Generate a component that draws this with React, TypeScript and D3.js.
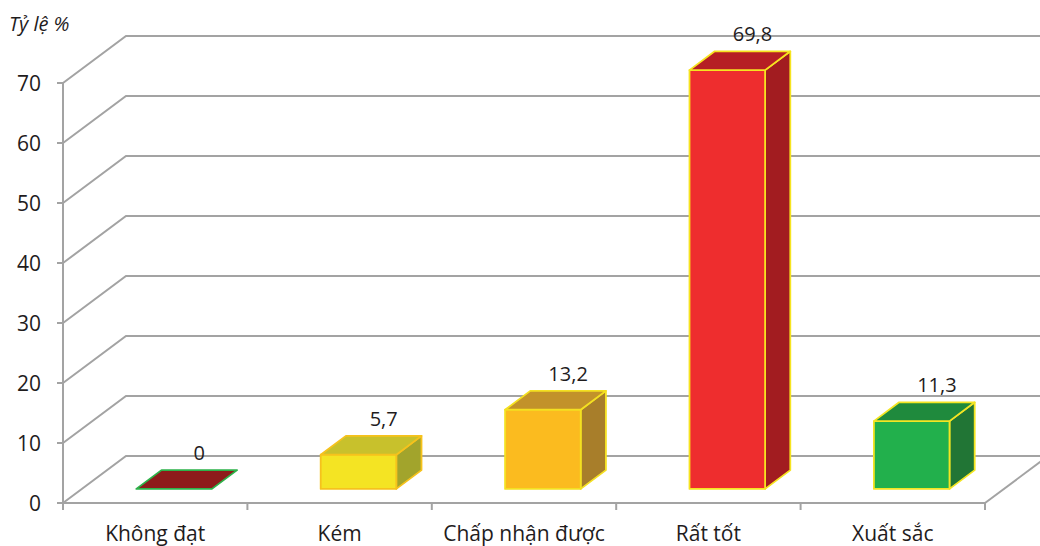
import React from "react";
import * as d3 from "d3";

// Survey result shares (%) per rating level
const categories = ["Không đạt", "Kém", "Chấp nhận được", "Rất tốt", "Xuất sắc"];
const values = [0, 5.7, 13.2, 69.8, 11.3];
const valueLabels = ["0", "5,7", "13,2", "69,8", "11,3"];
const yTicks = [0, 10, 20, 30, 40, 50, 60, 70];

// Face colours for each box: front, right side, top, outline
const frontColors = ["#8e1b1b", "#f4e423", "#fbbb1f", "#ee2d2e", "#22b04c"];
const sideColors = ["#8e1b1b", "#a2a42c", "#a87e2a", "#a21c20", "#217535"];
const topColors = ["#8e1b1b", "#c8c12c", "#c2922a", "#b61f24", "#1f8a3d"];
const strokeColors = ["#2db34a", "#f6c21c", "#f4e021", "#f6e420", "#f3e523"];

const W = 1040;
const H = 546;
const FONT = "'Open Sans', 'Noto Sans', sans-serif";
const GRID = "#a3a3a3";
const INK = "#1f1c1d";

export default function App() {
  const y = d3.scaleLinear().domain([0, 70]).range([503, 83]);
  const x = d3.scaleBand<string>().domain(categories).range([63, 985]);

  // oblique projection of the depth axis
  const depthX = 63;
  const depthY = -47;
  const dFront = 0.3;
  const dBack = 0.7;
  const barW = x.bandwidth() * 0.41;

  const gridPath = (v: number) => {
    const p = d3.path();
    p.moveTo(x.range()[0], y(v));
    p.lineTo(x.range()[0] + depthX, y(v) + depthY);
    p.lineTo(W, y(v) + depthY);
    return p.toString();
  };

  const poly = (pts: [number, number][]) => d3.line()(pts.concat([pts[0]])) + "Z";

  const right = x.range()[1];

  return (
    <svg
      width={W}
      height={H}
      style={{ position: "absolute", left: 0, top: 0, background: "#ffffff" }}
    >
      <text x={9} y={31} fontFamily={FONT} fontStyle="italic" fontSize={20} fill={INK}>
        Tỷ lệ %
      </text>

      {/* back wall gridlines */}
      {yTicks.map((v) => (
        <path key={v} d={gridPath(v)} fill="none" stroke={GRID} strokeWidth={2} />
      ))}

      {/* floor right edge */}
      <line
        x1={right}
        y1={y(0)}
        x2={right + depthX}
        y2={y(0) + depthY}
        stroke={GRID}
        strokeWidth={2}
      />

      {/* value axis */}
      <line x1={63} y1={y(0)} x2={63} y2={y(70)} stroke={GRID} strokeWidth={2} />
      {yTicks.map((v) => (
        <g key={v}>
          <line x1={57} x2={63} y1={y(v)} y2={y(v)} stroke={GRID} strokeWidth={2} />
          <text
            x={41}
            y={y(v)}
            textAnchor="end"
            dominantBaseline="central"
            fontFamily={FONT}
            fontSize={21}
            fill={INK}
          >
            {v}
          </text>
        </g>
      ))}

      {/* category axis */}
      <line x1={63} y1={y(0)} x2={right} y2={y(0)} stroke={GRID} strokeWidth={2} />
      {categories.concat([""]).map((c, i) => {
        const tx = 63 + x.step() * i;
        return <line key={i} x1={tx} x2={tx} y1={y(0)} y2={y(0) + 7} stroke={GRID} strokeWidth={2} />;
      })}
      {categories.map((c) => (
        <text
          key={c}
          x={(x(c) as number) + x.bandwidth() / 2}
          y={541}
          textAnchor="middle"
          fontFamily={FONT}
          fontSize={21}
          fill={INK}
        >
          {c}
        </text>
      ))}

      {/* 3D boxes */}
      {categories.map((c, i) => {
        const cx = (x(c) as number) + x.bandwidth() / 2;
        const fx0 = cx + depthX * dFront - barW / 2;
        const fx1 = fx0 + barW;
        const fyB = y(0) + depthY * dFront;
        const fyT = y(values[i]) + depthY * dFront;
        const ox = depthX * (dBack - dFront);
        const oy = depthY * (dBack - dFront);
        const front: [number, number][] = [
          [fx0, fyB],
          [fx1, fyB],
          [fx1, fyT],
          [fx0, fyT],
        ];
        const side: [number, number][] = [
          [fx1, fyB],
          [fx1 + ox, fyB + oy],
          [fx1 + ox, fyT + oy],
          [fx1, fyT],
        ];
        const top: [number, number][] = [
          [fx0, fyT],
          [fx1, fyT],
          [fx1 + ox, fyT + oy],
          [fx0 + ox, fyT + oy],
        ];
        const stroke = strokeColors[i];
        const labelX = cx + depthX * dBack;
        const labelY = y(values[i]) - 43;
        return (
          <g key={c} strokeLinejoin="round">
            {values[i] > 0 && (
              <>
                <path d={poly(side)} fill={sideColors[i]} stroke={stroke} strokeWidth={1.8} />
                <path d={poly(front)} fill={frontColors[i]} stroke={stroke} strokeWidth={1.8} />
              </>
            )}
            <path d={poly(top)} fill={topColors[i]} stroke={stroke} strokeWidth={1.8} />
            <text
              x={labelX}
              y={labelY}
              textAnchor="middle"
              fontFamily={FONT}
              fontSize={20}
              fill={INK}
            >
              {valueLabels[i]}
            </text>
          </g>
        );
      })}
    </svg>
  );
}
